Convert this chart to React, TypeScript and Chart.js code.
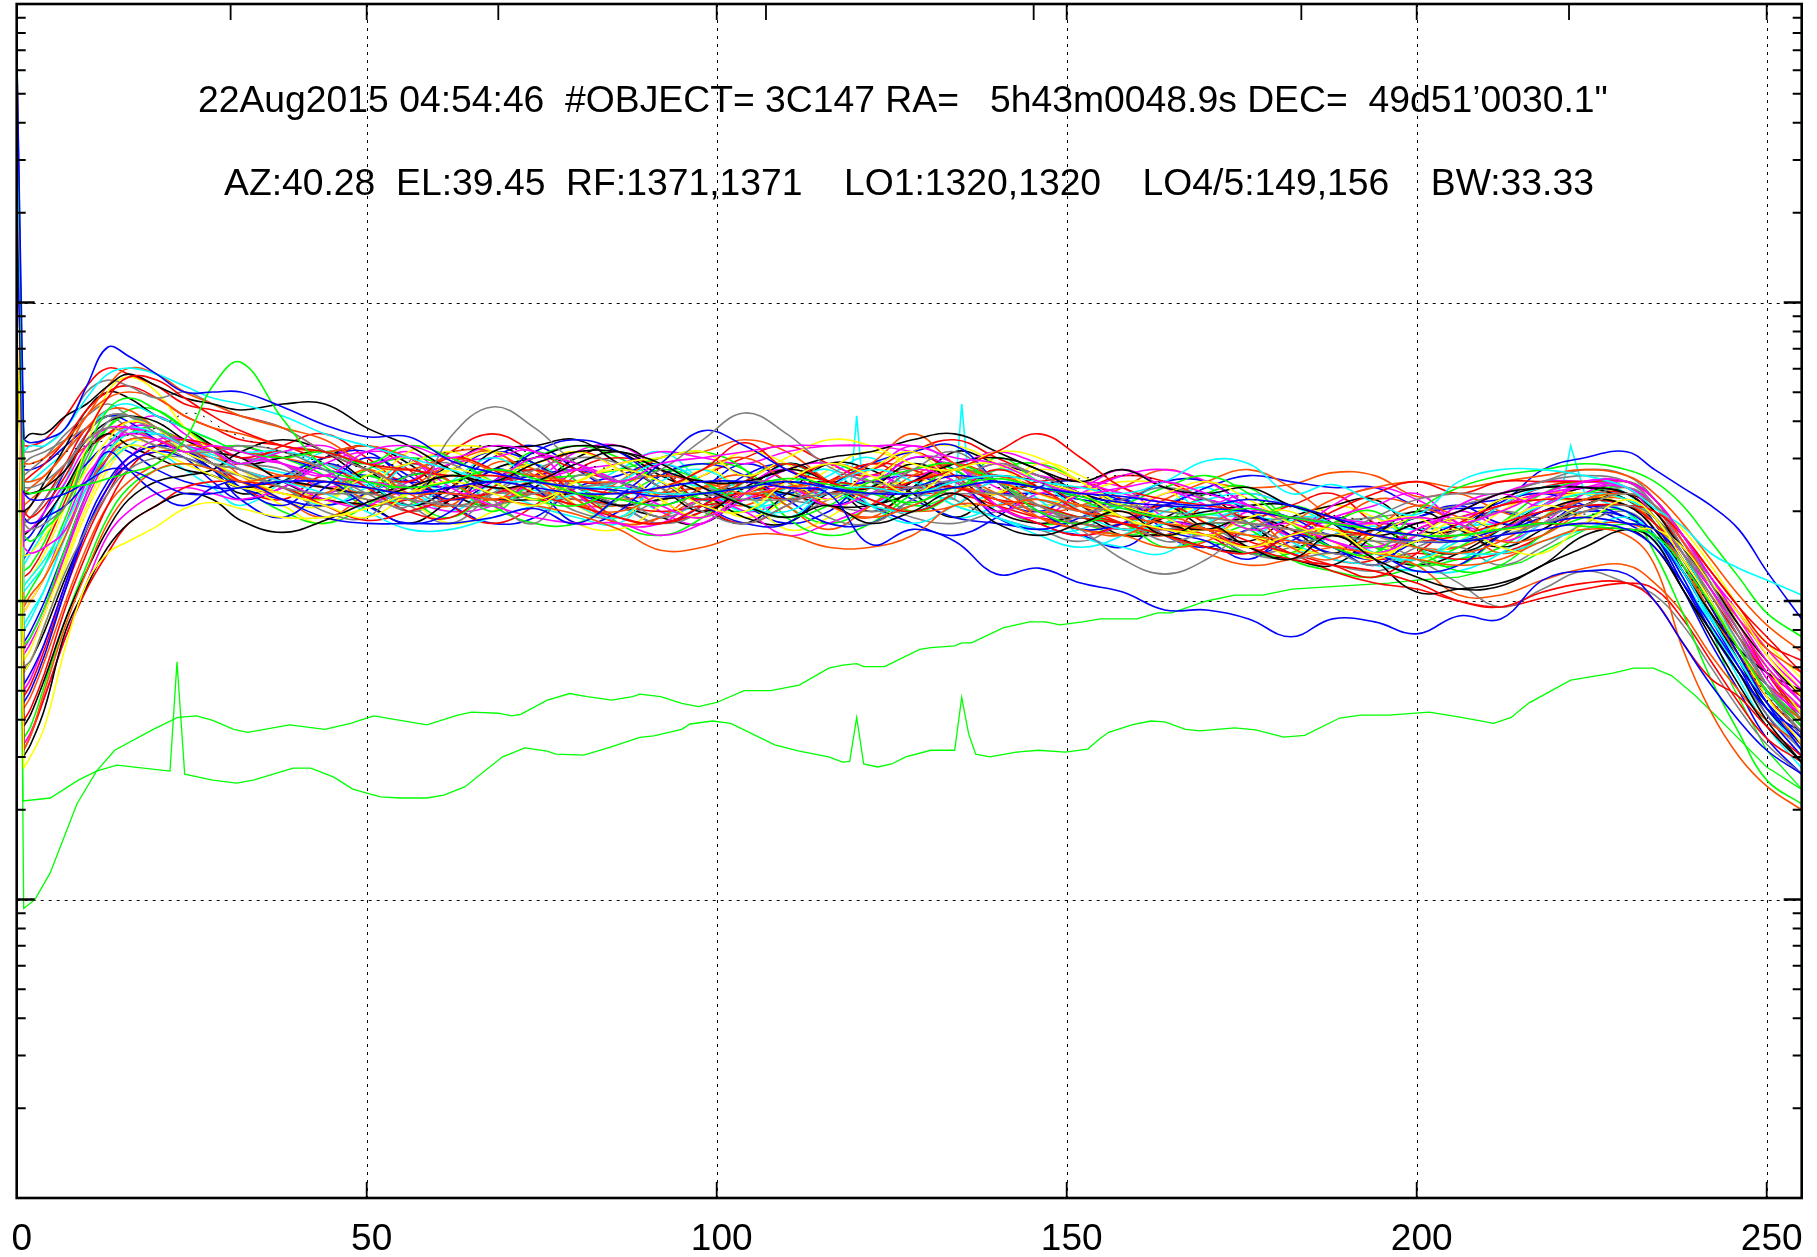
import React, { useEffect, useRef } from "react";
import { Chart, registerables } from "chart.js";

Chart.register(...registerables);

// All levels are in tenths of a dB on a log axis: value = 10^(level/100)
const channels = [0,1,2,4,7,10,13,16,20,24,
  28,32,38,44,50,56,62,68,74,80,
  86,92,98,104,110,116,122,128,134,140,
  146,152,158,164,170,176,182,188,194,200,
  206,212,218,224,230,234,238,242,246,250,255];

const s01 = [385,254,253,254,258,272,285,282,276,270, 270,270,265,259,255,255,247,243,240,238, 237,235,236,238,240,238,236,236,238,240, 238,236,235,233,232,234,232,228,224,222, 220,222,224,226,224,218,206,192,178,166,154];
const s02 = [376,237,236,237,238,239,241,243,246,254, 272,280,261,245,240,238,240,244,241,236, 234,232,236,238,241,239,236,233,238,241, 238,235,231,228,229,231,228,226,224,222, 222,224,226,225,224,222,212,199,184,170,158];
const s03 = [330,236,234,234,236,240,244,244,240,236, 236,238,240,240,238,236,238,240,238,236, 236,238,240,240,238,236,219,224,220,209, 211,206,203,197,197,194,188,194,193,189, 195,194,207,210,209,200,186,172,160,150,142];
const s04 = [350,218,216,218,224,240,252,256,254,250, 252,250,246,242,250,252,248,252,250,246, 240,246,248,250,252,252,252,252,248,246, 240,236,238,240,236,232,228,226,226,228, 226,230,236,240,240,234,222,208,194,180,166];
const s05 = [360,250,252,252,258,268,276,278,276,272, 268,266,262,256,252,248,244,240,240,238, 238,236,236,238,240,238,238,236,240,242, 240,238,236,240,247,246,236,239,233,229, 240,244,244,242,238,231,225,216,211,207,202];
const s06 = [340,144,148,158,185,206,216,220,225,231, 233,231,228,228,231,236,240,236,232,240, 244,240,232,230,240,246,242,236,244,246, 240,236,228,224,222,218,222,224,216,220, 224,218,216,226,234,228,214,200,184,168,152];
const s07 = [340,148,152,164,190,205,218,226,232,236, 234,227,223,227,233,238,242,240,246,250, 250,246,238,232,228,232,226,230,236,226, 222,226,230,222,226,218,214,222,214,208, 204,205,212,218,224,220,204,190,176,160,146];
const s08 = [345,150,155,170,192,210,226,236,244,246, 244,240,242,240,238,236,236,234,232,229, 224,217,218,222,222,218,218,222,232,232, 234,230,228,226,224,222,220,218,216,214, 212,214,220,224,222,212,184,163,148,138,130];
const s09 = [340,238,238,240,246,254,258,256,252,250, 250,252,250,244,236,232,255,265,258,246, 240,236,236,234,234,236,236,238,240,236, 234,230,232,230,228,226,224,222,220,220, 220,222,226,232,236,232,222,206,190,172,158];
const s10 = [345,226,224,226,232,248,260,262,258,252, 246,244,238,236,236,234,232,232,236,238, 240,244,254,263,256,245,240,238,236,236, 232,224,214,209,214,224,228,226,224,222, 222,224,226,230,232,228,216,202,186,172,158];
const s11 = [335,228,226,228,232,240,250,244,236,232, 238,240,234,228,226,226,226,228,231,226, 235,246,257,252,244,238,236,238,242,240, 238,235,233,232,231,230,228,226,222,220, 220,224,226,228,226,224,214,198,182,166,150];
const s12 = [387,230,228,232,242,256,268,275,274,268, 262,257,252,250,246,244,242,242,240,238, 236,238,244,253,244,240,236,240,244,250, 256,248,238,234,232,230,228,224,222,220, 222,226,230,232,232,230,222,210,198,188,176];
const s13 = [335,180,184,196,214,232,246,252,250,246, 242,238,236,232,228,236,244,240,234,240, 246,248,250,242,248,254,252,246,244,250, 248,240,232,236,240,234,226,222,226,228, 220,226,232,228,224,224,218,206,196,182,168];
const s14 = [340,254,256,256,262,266,272,276,272,268, 266,264,266,266,258,252,244,238,240,246, 250,244,240,240,244,248,250,254,256,250, 244,240,244,238,236,238,232,228,222,226, 230,236,238,238,236,228,218,206,192,180,168];
const s15 = [340,246,246,248,254,262,272,278,276,270, 266,262,258,254,246,244,248,244,242,240, 240,242,240,236,238,240,246,256,246,240, 236,232,230,228,228,226,224,222,222,218, 216,220,228,234,236,232,220,206,194,184,176];
const s16 = [340,250,250,252,258,270,274,272,268,270, 266,262,258,250,244,238,232,236,244,248, 246,238,230,226,232,238,236,244,250,240, 232,228,234,238,234,226,220,222,228,234, 236,236,240,242,240,232,218,200,184,170,156];
const s17 = [340,222,220,224,232,250,264,268,264,258, 254,250,248,250,246,252,248,240,234,232, 238,244,240,232,228,232,240,244,246,240, 230,226,232,238,242,236,226,218,216,230, 238,242,244,246,244,240,232,220,208,196,188];
const s18 = [340,252,252,254,262,272,278,276,272,266, 264,262,258,250,244,240,248,244,236,232, 228,226,232,240,246,240,234,230,236,244, 238,230,226,222,218,216,222,230,236,240, 236,240,240,240,240,234,222,210,198,186,180];
const s19 = [340,240,240,242,250,262,268,270,268,262, 258,256,252,250,252,248,240,234,240,232, 230,236,244,248,240,232,228,232,238,234, 228,224,222,228,224,218,226,234,238,240, 238,240,242,244,242,236,226,214,202,192,183];
const s20 = [340,205,208,214,226,240,250,256,256,252, 248,244,240,236,230,224,224,228,232,236, 240,246,240,232,230,238,244,240,232,228, 222,218,222,230,234,236,232,226,222,218, 216,216,220,224,228,222,210,194,180,166,150];
const s21 = [340,150,155,168,188,204,216,226,232,238, 240,240,238,232,227,230,234,236,240,240, 238,236,234,236,234,236,238,238,238,234, 232,228,226,224,222,218,214,212,210,206, 200,198,203,206,206,200,186,174,168,158,148];
const s22 = [340,152,156,168,188,206,222,230,236,238, 236,234,238,246,250,248,238,232,228,226, 226,222,226,234,238,232,236,244,240,230, 236,238,244,238,232,224,226,220,216,222, 232,236,232,240,238,228,216,204,190,176,164];
const s23 = [340,223,224,230,240,252,258,258,256,252, 250,246,250,252,246,248,236,240,248,246, 240,232,228,236,244,246,240,248,246,232, 228,236,242,244,240,232,226,220,218,224, 230,236,240,240,238,232,220,206,192,178,166];
const s24 = [340,215,216,222,232,244,254,260,258,250, 246,242,236,234,242,246,250,244,246,250, 244,234,228,236,240,234,244,250,240,236, 244,240,232,228,222,228,230,220,214,222, 228,224,226,232,236,232,220,206,192,178,162];
const s25 = [345,203,206,212,224,238,252,258,256,252, 250,246,250,246,240,232,240,248,240,232, 228,240,244,236,228,236,232,230,236,244, 240,230,224,226,232,232,226,220,216,214, 220,226,232,236,234,228,216,200,186,172,158];
const s26 = [340,178,180,192,210,224,236,244,248,248, 244,242,238,230,228,242,246,234,226,242, 236,228,234,240,238,228,226,234,240,246, 242,236,228,220,222,216,214,216,212,218, 224,230,228,234,238,232,218,204,188,172,154];
const s27 = [340,172,176,186,206,226,240,248,252,250, 246,238,232,240,232,226,230,244,238,226, 230,242,246,242,234,226,226,234,240,228, 224,228,234,224,220,214,222,218,212,222, 228,224,228,232,228,222,208,190,176,164,152];
const s28 = [340,166,170,182,204,224,238,246,250,248, 244,234,228,238,248,242,234,240,250,254, 250,240,232,226,226,238,246,250,252,240, 230,224,226,232,236,230,222,216,216,210, 212,222,230,232,230,222,206,190,176,164,156];
const s29 = [340,158,162,174,194,210,224,234,240,242, 244,250,254,250,240,232,238,250,252,254, 246,238,230,238,244,240,232,240,246,248, 244,236,232,226,224,228,224,216,224,218, 216,222,230,234,232,224,210,196,184,176,170];
const s30 = [340,160,164,176,198,216,232,244,252,254, 252,248,250,246,238,230,228,238,244,236, 228,226,230,236,240,246,244,250,242,232, 226,222,226,232,226,220,216,212,208,216, 226,232,234,234,232,226,216,202,188,176,168];
const s31 = [340,164,168,180,200,218,232,240,246,252, 250,242,236,236,244,236,232,246,244,234, 226,228,238,242,232,224,232,242,246,240, 228,224,222,218,220,228,218,214,224,232, 228,220,222,230,232,226,212,196,182,170,160];
const s32 = [340,154,158,172,194,212,228,238,244,246, 244,238,230,226,232,242,240,230,240,242, 244,248,250,244,228,222,226,236,244,240, 232,228,226,218,220,216,216,226,230,218, 210,212,222,228,230,216,196,174,156,140,132];
const s33 = [340,170,174,186,206,224,238,248,254,254, 250,244,240,234,232,240,246,248,250,236, 226,226,234,230,222,226,232,240,246,232, 226,222,226,236,234,230,222,228,232,236, 226,224,232,240,240,234,220,204,188,172,162];
const s34 = [340,205,208,216,232,252,270,275,270,258, 250,244,238,236,244,236,244,250,244,232, 228,238,242,250,246,238,240,250,252,246, 236,232,228,222,224,222,218,216,222,228, 226,234,234,236,232,228,216,202,192,180,168];
const s35 = [340,236,236,238,244,254,260,262,260,254, 250,248,240,234,232,226,234,244,248,252, 250,242,236,228,226,236,238,246,240,230, 226,228,222,222,218,216,214,212,222,230, 224,218,224,232,236,230,216,200,184,170,158];
const s36 = [340,222,224,228,238,250,256,252,248,244, 242,238,240,238,236,238,236,234,234,236, 232,234,236,238,236,232,232,236,240,242, 240,236,232,228,230,232,232,226,214,203, 204,206,212,222,224,218,204,188,172,158,146];
const s37 = [340,226,228,234,244,256,262,262,256,250, 246,246,244,238,234,232,234,236,236,234, 232,234,236,238,234,232,230,232,238,234, 230,226,224,224,226,226,224,222,220,214, 206,198,204,210,206,202,192,178,164,152,142];
const s38 = [340,168,172,184,204,222,236,246,250,250, 246,240,236,234,232,234,238,238,234,234, 232,230,232,234,238,240,238,236,236,232, 228,226,224,224,224,222,216,210,206,204, 200,198,201,204,206,204,194,180,166,154,146];
const s39 = [340,198,202,208,222,238,248,254,254,250, 246,244,240,238,236,234,232,234,236,236, 234,236,238,240,240,238,236,240,244,242, 238,230,226,222,216,212,214,218,216,212, 202,202,207,211,212,206,196,182,170,160,152];
const s40 = [340,182,186,196,216,236,252,258,256,254, 252,248,246,242,240,238,236,236,240,244, 246,250,248,246,250,252,252,250,246,250, 246,240,236,233,232,236,232,228,226,226, 228,232,236,238,238,232,222,208,196,184,172];
const s41 = [340,212,216,224,240,256,264,266,262,258, 254,250,250,244,236,246,248,238,232,228, 226,238,238,230,238,244,232,226,232,240, 234,222,218,216,226,230,220,214,212,210, 210,216,226,230,232,226,212,192,174,158,144];
const s42 = [340,196,200,208,224,240,250,254,252,248, 244,240,232,226,236,250,252,250,236,226, 224,232,244,236,224,228,238,240,244,240, 232,236,240,238,226,222,216,226,220,214, 220,230,236,236,234,228,214,206,196,186,174];
const s43 = [340,185,188,198,218,236,250,256,258,252, 246,244,238,234,242,234,228,238,250,240, 226,222,228,240,246,240,238,230,236,248, 240,234,228,222,226,224,214,210,208,212, 218,226,236,240,238,228,212,196,182,170,160];
const s44 = [340,240,242,246,254,264,270,272,268,262, 258,254,252,248,252,244,232,226,232,244, 248,244,232,226,232,240,246,244,238,236, 240,240,234,226,222,216,222,220,214,216, 214,216,222,232,236,230,218,204,190,176,162];
const s45 = [340,236,238,242,250,258,264,264,258,254, 252,250,248,244,234,238,246,250,240,232, 240,248,250,254,250,240,232,230,232,240, 232,226,224,222,226,230,222,226,234,232, 226,216,222,232,234,224,212,198,184,172,164];
const s46 = [340,242,244,248,256,262,266,262,258,252, 250,248,246,238,238,232,226,236,244,238, 232,226,230,240,246,240,234,228,226,230, 232,232,232,222,218,216,218,226,228,230, 232,236,240,244,242,234,220,206,192,178,160];
const s47 = [340,220,222,230,244,256,262,260,254,250, 244,238,234,232,236,242,244,250,246,236, 232,226,232,242,246,240,232,226,222,228, 238,240,234,240,240,232,228,222,224,228, 232,226,226,230,228,222,210,196,182,172,164];
const s48 = [340,196,200,208,226,242,250,258,258,252, 248,244,238,236,240,234,230,232,240,244, 240,230,226,238,244,234,242,238,240,246, 242,240,238,228,224,218,222,232,238,234, 226,220,226,236,240,232,220,208,196,182,170];
const s49 = [340,210,212,220,236,250,258,262,258,250, 246,244,238,236,244,248,244,232,226,226, 234,242,246,244,232,226,232,244,244,232, 226,226,222,226,236,238,226,218,218,214, 212,222,232,236,238,230,218,204,190,172,160];
const s50 = [340,230,232,240,252,264,270,268,262,258, 252,246,248,250,244,236,246,252,246,238, 232,228,226,236,246,240,230,238,250,246, 242,236,228,232,224,220,228,232,234,224, 224,234,238,238,234,226,212,196,180,164,152];
const s51 = [340,208,210,218,234,250,256,260,258,252, 246,238,234,242,236,246,240,232,242,250, 244,234,228,240,234,240,246,242,246,242, 240,232,226,222,232,230,222,214,214,224, 228,232,236,236,236,228,216,200,184,170,158];
const s52 = [340,192,196,204,222,238,246,252,256,252, 250,244,238,232,238,246,240,232,240,244, 240,230,232,234,246,240,232,240,232,228, 224,224,232,238,228,222,228,226,216,214, 222,232,238,238,234,224,208,192,176,160,146];
const s53 = [340,176,180,192,212,230,244,252,256,254, 248,244,234,232,244,234,226,230,240,240, 246,246,236,228,234,244,250,244,232,236, 246,242,234,230,232,232,226,232,228,222, 228,232,234,234,238,232,224,212,198,184,170];
const s54 = [340,228,232,238,246,252,256,258,254,250, 246,240,234,228,236,246,250,250,242,234, 226,228,234,232,238,232,228,238,246,240, 232,226,226,234,240,244,238,228,222,218, 218,224,230,234,234,226,214,198,182,166,152];
const s55 = [340,246,248,250,254,258,262,258,254,250, 246,242,240,246,238,230,236,244,238,230, 228,234,238,232,228,234,240,244,234,228, 224,220,226,232,226,218,214,212,210,214, 218,212,218,226,230,222,206,190,176,162,150];
const s56 = [340,214,218,226,238,246,252,250,244,240, 238,238,242,248,250,240,232,226,228,238, 242,246,240,232,226,230,240,234,228,226, 224,222,218,226,224,216,220,228,224,228, 232,234,236,232,226,220,204,186,170,154,142];
const s57 = [340,244,244,246,252,258,262,262,258,254, 252,250,248,244,242,240,238,240,242,244, 240,236,234,234,236,238,240,242,238,236, 236,234,232,232,238,242,240,238,238,232, 231,233,244,248,250,244,238,232,224,210,194];
const s58 = [340,232,234,238,246,254,258,258,254,250, 248,246,242,240,240,238,234,236,236,232, 232,234,236,240,238,236,236,240,242,236, 230,232,238,244,240,238,239,243,242,235, 236,230,226,226,226,222,210,196,182,168,156];
const s59 = [340,226,228,234,246,258,262,262,258,252, 248,246,252,256,248,240,250,256,250,244, 240,236,242,248,252,246,242,250,254,248, 242,238,242,240,234,228,232,236,226,220, 224,232,238,240,238,232,220,206,192,176,160];
const s60 = [340,200,204,212,228,246,258,264,264,258, 252,252,248,242,232,236,242,240,248,252, 248,240,234,230,238,246,240,232,236,244, 246,240,232,226,222,226,232,226,218,212, 214,218,228,236,240,234,222,208,192,178,166];
const s61 = [340,176,180,190,208,224,238,248,252,250, 244,236,240,248,252,246,236,232,238,248, 252,244,232,226,236,246,244,236,228,236, 238,232,224,228,234,226,218,222,216,212, 216,224,232,238,236,228,214,198,182,168,156];
const s62 = [340,186,190,200,218,236,248,254,252,248, 240,234,238,246,240,232,238,248,252,244, 236,232,238,246,240,232,238,248,244,234, 230,236,232,222,218,224,226,218,214,220, 226,230,226,234,236,226,210,194,178,162,148];
const s63 = [340,190,194,204,222,238,248,252,250,244, 238,232,240,250,246,238,230,240,246,238, 244,250,240,232,234,242,248,236,228,232, 240,232,226,232,238,226,216,222,228,218, 214,224,232,240,236,226,210,196,180,164,150];
const s64 = [340,184,188,198,216,234,248,258,262,256, 250,252,246,238,244,250,240,234,240,250, 252,244,238,230,234,240,244,252,246,238, 232,228,234,226,222,230,228,224,218,222, 230,226,234,238,240,234,222,206,190,174,160];

const spectra = [s01,s02,s03,s04,s05,s06,s07,s08,s09,s10,s11,s12,s13,s14,s15,s16,s17,s18,s19,s20,
  s21,s22,s23,s24,s25,s26,s27,s28,s29,s30,s31,s32,s33,s34,s35,s36,s37,s38,s39,s40,
  s41,s42,s43,s44,s45,s46,s47,s48,s49,s50,s51,s52,s53,s54,s55,s56,s57,s58,s59,s60,s61,s62,s63,s64];

const R = "#ff0000", G = "#00ff00", B = "#0000ff", M = "#ff00ff", C = "#00ffff", Y = "#ffff00", K = "#000000", O = "#ff5000", A = "#808080";
const spectraColors = [B,G,B,M,C,Y,K,O,A,A,B,R,Y,K,O,A,G,R,O,C,
  R,M,M,Y,C,A,B,B,K,R,O,G,M,Y,K,K,A,R,O,M,
  C,Y,G,R,O,A,B,M,G,K,R,C,Y,O,A,B,B,O,R,G,K,B,C,M];

const spikeChannels = [0,1,2,4,7,10,13,16,20,24,32,44,56,68,80,92,104,116,119,120,121,122,128,134,135,136,137,140,152,164,176,188,200,212,220,221,222,223,224,230,238,246,255];
const spikeCyan = [389,240,240,244,250,258,262,262,256,252,246,240,238,238,236,236,236,236,234,262,234,236,236,234,266,240,234,236,232,230,228,226,224,226,236,240,252,244,236,230,210,180,156];

const dottedChannels = [1,7,13,20,25,30,38,50,62,68,80,100,120,140,160,167,174,190,205,219,226,232,240,248,255];
const dottedLevels = [245,250,254,258,263,257,250,245,250,252,246,240,240,238,242,236,235,228,224,228,229,226,205,175,155];

const riseGreenChannels = [0,1,2.6,4.8,8.6,11.4,14,19.5,23,25.7,28,31,33,39,44,47.7,51,54.8,58.6,63,65,68.8,70.7,72,75.8,79,81.5,85,88,89,92,95,97.4,100,103.9,107.7,111.8,116,118,120,121,124,129,130.6,134,135,136.4,140.9,144.7,147,149,152.3,154.8,160,163,165,170,174,178,182.2,189,196,200,206,215,225,232,236,240,245,250,255];
const riseGreen = [372,97,100,109,132,143,150,157,161,161.5,160,157,156,158.5,157,159,161.5,160,158.5,161.8,162.8,162.4,161.5,162,166.8,169,168,166.8,168,168.8,168,165.7,164.6,166,170,170,171.8,177.5,178.5,179,178,178,183.8,184.4,185,186,186,191,193,193,192,193,194,194,196,196,200,202,202,204,205,206,207,208,213,225,226,216,204,172,150,137];

const spikeGreenChannels = [0,0.9,4.8,8.8,11.4,14.3,21.9,22.9,24,28,31.4,33.8,39.5,42,45.3,48,50,52,54.8,58.6,61,64,69.4,72.6,75.8,77,81,84.7,87.3,89,91,95,96.2,99.4,102,104.2,108.3,111.8,116,118,119,120,121,123,125,127,130.6,134,135,136,137,139,142.8,146,149.8,153,154.8,156,159.3,162,164,167,169,174,177,181,184,189,192,196,201.8,206.4,211,213.5,216,222,228,231,233.8,236.4,239.7,243,246.2,250,254.7,255];
const spikeGreen = [370,133,134,140,143,145,143,179.6,142,140,139,140,144,144,141,137,135.6,134.4,134,134,135,137.7,147.8,150.8,149.7,148.7,148.4,151,153,154.3,154.8,157,158.8,159.8,159,156.5,151.8,149.7,147.8,146,146.3,161,145.4,144.4,145.4,147.8,150,150,167.7,155.4,148.7,147.8,149.4,150,149.4,150.4,154,156,158.5,159.8,159.5,157,156.5,157.5,156.8,154.4,155,160.8,161.8,161.8,162.8,161,159,161,165.8,173.5,175.8,177.5,177.5,175,168.5,161,153.4,144.4,137.3,137];

const banner1 = "22Aug2015 04:54:46  #OBJECT= 3C147 RA=   5h43m0048.9s DEC=  49d51\u20190030.1\"";
const banner2 = "AZ:40.28  EL:39.45  RF:1371,1371    LO1:1320,1320    LO4/5:149,156    BW:33.33";

const xTicks = [0, 50, 100, 150, 200, 250];
const topAxisTicks = [30.56, 68.8, 107.04, 145.28, 183.52, 221.76];
const yDecades = [1, 10, 100, 1000];
const yMinorSteps = [2, 3, 4, 5, 6, 7, 8, 9];

const toValue = (level: number) => Math.pow(10, level / 100);
const zip = (xs: number[], ys: number[]) => xs.map((x, i) => ({ x, y: toValue(ys[i]) }));

const FONT = '"Liberation Sans", Arial, sans-serif';

const framePlugin = {
  id: "frame",
  beforeDatasetsDraw(chart: any) {
    const { ctx, chartArea: a, scales } = chart;
    ctx.save();
    ctx.strokeStyle = "#000";
    ctx.lineWidth = 1;
    ctx.setLineDash([3, 5]);
    ctx.beginPath();
    for (const t of xTicks.slice(1)) {
      const x = Math.round(scales.x.getPixelForValue(t)) + 0.5;
      ctx.moveTo(x, a.top);
      ctx.lineTo(x, a.bottom);
    }
    for (const d of yDecades.slice(1)) {
      const y = Math.round(scales.y.getPixelForValue(d)) + 0.5;
      ctx.moveTo(a.left, y);
      ctx.lineTo(a.right, y);
    }
    ctx.stroke();
    ctx.restore();
  },
  afterDatasetsDraw(chart: any) {
    const { ctx, chartArea: a, scales } = chart;
    ctx.save();
    ctx.setLineDash([]);
    ctx.strokeStyle = "#000";
    for (const d of yDecades) {
      for (const m of [1, ...yMinorSteps]) {
        if (m === 1 && d === 1) continue;
        const y = scales.y.getPixelForValue(d * m);
        const major = m === 1;
        const len = major ? 18 : 9;
        ctx.lineWidth = major ? 2.4 : 2;
        ctx.beginPath();
        ctx.moveTo(a.left, y);
        ctx.lineTo(a.left + len, y);
        ctx.moveTo(a.right, y);
        ctx.lineTo(a.right - len, y);
        ctx.stroke();
      }
    }
    ctx.lineWidth = 1.8;
    ctx.beginPath();
    for (const t of xTicks) {
      const x = scales.x.getPixelForValue(t);
      if (t > 0) {
        ctx.moveTo(x, a.bottom);
        ctx.lineTo(x, a.bottom - 16);
        ctx.moveTo(x, a.top);
        ctx.lineTo(x, a.top + 16);
      }
    }
    for (const t of topAxisTicks) {
      const x = scales.x.getPixelForValue(t);
      ctx.moveTo(x, a.top);
      ctx.lineTo(x, a.top + 16);
    }
    ctx.stroke();
    ctx.lineWidth = 2.6;
    ctx.strokeRect(a.left, a.top, a.right - a.left, a.bottom - a.top);
    ctx.fillStyle = "#000";
    ctx.font = "37.3px " + FONT;
    ctx.textAlign = "left";
    ctx.textBaseline = "middle";
    ctx.fillText(banner1, 198, 102);
    ctx.fillText(banner2, 224, 185);
    ctx.restore();
  },
};

export default function App() {
  const ref = useRef<HTMLCanvasElement | null>(null);
  useEffect(() => {
    document.body.style.margin = "0";
    const spikes = spectra.map((levels, i) => ({
      data: zip(channels.slice(0, 2), levels.slice(0, 2)),
      borderColor: spectraColors[i],
      borderWidth: 1.6,
      pointRadius: 0,
      tension: 0,
    }));
    const smooth = spectra.map((levels, i) => ({
      data: zip(channels.slice(1), levels.slice(1)),
      borderColor: spectraColors[i],
      borderWidth: 1.6,
      pointRadius: 0,
      tension: 0.4,
    }));
    const chart = new Chart(ref.current as HTMLCanvasElement, {
      type: "line",
      data: {
        datasets: [
          {
            data: zip(dottedChannels, dottedLevels),
            borderColor: "#000",
            borderWidth: 1,
            borderDash: [2, 7],
            pointRadius: 0,
            tension: 0.4,
          },
          ...spikes,
          ...smooth,
          { data: zip(spikeChannels, spikeCyan), borderColor: C, borderWidth: 1.6, pointRadius: 0, tension: 0 },
          { data: zip(riseGreenChannels, riseGreen), borderColor: G, borderWidth: 1.3, pointRadius: 0, tension: 0 },
          { data: zip(spikeGreenChannels, spikeGreen), borderColor: G, borderWidth: 1.3, pointRadius: 0, tension: 0 },
        ] as any,
      },
      options: {
        animation: false,
        responsive: false,
        parsing: false,
        events: [],
        layout: { padding: { left: 16.7, right: 15.3, top: 4, bottom: 0 } },
        plugins: { legend: { display: false }, tooltip: { enabled: false }, title: { display: false } },
        scales: {
          x: {
            type: "linear",
            min: 0,
            max: 255,
            grid: { display: false },
            border: { display: false },
            afterFit(scale: any) {
              scale.height = 59;
              scale.paddingLeft = 0;
              scale.paddingRight = 0;
            },
            ticks: {
              includeBounds: false,
              stepSize: 50,
              autoSkip: false,
              maxRotation: 0,
              minRotation: 0,
              labelOffset: 5,
              padding: 12,
              color: "#000",
              font: { family: FONT, size: 37 },
            },
          },
          y: {
            type: "logarithmic",
            min: 1,
            max: 10000,
            display: false,
          },
        },
      } as any,
      plugins: [framePlugin],
    });
    return () => chart.destroy();
  }, []);
  return <canvas ref={ref} width={1817} height={1257} style={{ display: "block" }} />;
}
